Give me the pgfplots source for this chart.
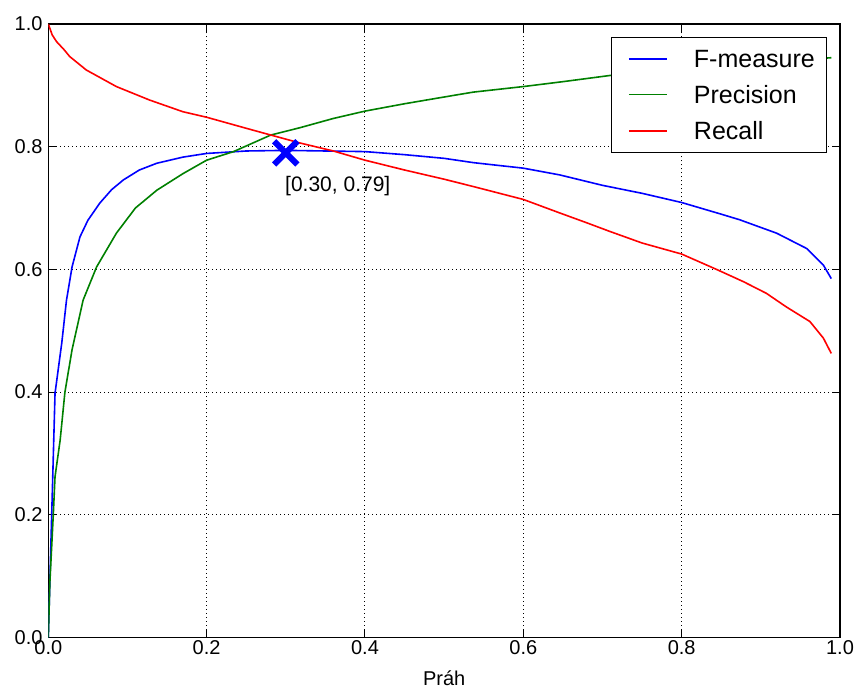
\documentclass[border=0pt]{standalone}
\usepackage{pgfplots}
\pgfplotsset{compat=1.18}
\usepackage{fontspec}
\setmainfont{Liberation Sans}

\pgfplotstableread{
x y
0 0
0.0043 0.20
0.0085 0.398
0.017 0.48
0.023 0.55
0.03 0.604
0.04 0.653
0.05 0.680
0.065 0.708
0.08 0.730
0.095 0.746
0.115 0.762
0.137 0.773
0.17 0.783
0.2 0.789
0.25 0.793
0.30 0.794
0.35 0.793
0.4 0.792
0.45 0.787
0.5 0.781
0.537 0.774
0.6 0.765
0.646 0.754
0.70 0.737
0.75 0.724
0.8 0.709
0.85 0.690
0.873 0.681
0.92 0.659
0.958 0.634
0.979 0.607
0.989 0.585
}\fmeasure

\pgfplotstableread{
x y
0 0
0.002 0.09
0.0063 0.20
0.0085 0.262
0.015 0.322
0.021 0.40
0.03 0.469
0.044 0.55
0.061 0.604
0.086 0.659
0.11 0.700
0.137 0.729
0.17 0.756
0.2 0.778
0.234 0.792
0.281 0.819
0.318 0.831
0.36 0.846
0.4 0.858
0.45 0.870
0.5 0.881
0.537 0.889
0.6 0.898
0.65 0.906
0.709 0.916
0.8 0.928
0.9 0.938
0.989 0.945
}\precision

\pgfplotstableread{
x y
0 1.0
0.005 0.982
0.0106 0.971
0.02 0.958
0.027 0.947
0.048 0.925
0.086 0.898
0.128 0.876
0.170 0.857
0.2 0.848
0.25 0.830
0.281 0.819
0.318 0.806
0.36 0.793
0.4 0.778
0.45 0.762
0.5 0.747
0.537 0.735
0.6 0.714
0.646 0.692
0.68 0.676
0.709 0.662
0.75 0.643
0.8 0.625
0.844 0.600
0.878 0.580
0.907 0.561
0.932 0.539
0.962 0.515
0.979 0.488
0.989 0.463
}\recall

\begin{document}
\begin{tikzpicture}
\begin{axis}[
  name=ax,
  scale only axis,
  width=791.7bp, height=613.5bp,
  xmin=0, xmax=1, ymin=0, ymax=1,
  xtick={0,0.2,0.4,0.6,0.8,1.0},
  ytick={0,0.2,0.4,0.6,0.8,1.0},
  xticklabels={0.0,0.2,0.4,0.6,0.8,1.0},
  yticklabels={0.0,0.2,0.4,0.6,0.8,1.0},
  /pgf/number format/assume math mode=true,
  tick label style={font=\fontsize{20bp}{24bp}\selectfont},
  yticklabel style={xshift=-2.3bp},
  tick align=inside,
  major tick length=8bp,
  tick style={black, line width=1bp},
  axis line style={black, line width=1.5bp},
  grid=major,
  major grid style={black, line width=1bp, dash pattern=on 1bp off 3bp},
  xlabel={Práh},
  xlabel style={font=\fontsize{20bp}{24bp}\selectfont, inner sep=0pt, at={(axis description cs:0.5,0)}, anchor=base, yshift=-47.5bp},
  legend style={at={(0.984,0.979)}, anchor=north east, draw=black, line width=1bp, fill=white,
    inner xsep=12bp, inner ysep=12.9bp, row sep=18.1bp, cells={anchor=west},
    nodes={inner sep=0pt, text depth=0pt}, font=\fontsize{25bp}{30bp}\selectfont},
  legend image code/.code={\draw[#1] (5bp,0bp) -- (43bp,0bp); \path[draw=none] (0bp,0bp) -- (70bp,0bp);},
]
\addplot[color={rgb,1:red,0;green,0;blue,1}, line width=1.6bp, no markers] table[x=x,y=y] {\fmeasure};
\addlegendentry{F-measure}
\addplot[color={rgb,1:red,0;green,0.5;blue,0}, line width=1.6bp, no markers] table[x=x,y=y] {\precision};
\addlegendentry{Precision}
\addplot[color={rgb,1:red,1;green,0;blue,0}, line width=1.6bp, no markers] table[x=x,y=y] {\recall};
\addlegendentry{Recall}
\addplot[color={rgb,1:red,0;green,0;blue,1}, only marks, mark=x, mark size=16.5bp, mark options={line width=6bp}, forget plot] coordinates {(0.30,0.79)};
\node[anchor=base west, inner sep=0pt, font=\fontsize{21bp}{25bp}\selectfont] at (axis cs:0.299,0.7267) {[0.30, 0.79]};
\end{axis}
\pgfresetboundingbox
\path[use as bounding box] ([shift={(-48.3bp,-51.5bp)}]ax.south west) rectangle ([shift={(15bp,24bp)}]ax.north east);
\end{tikzpicture}
\end{document}
